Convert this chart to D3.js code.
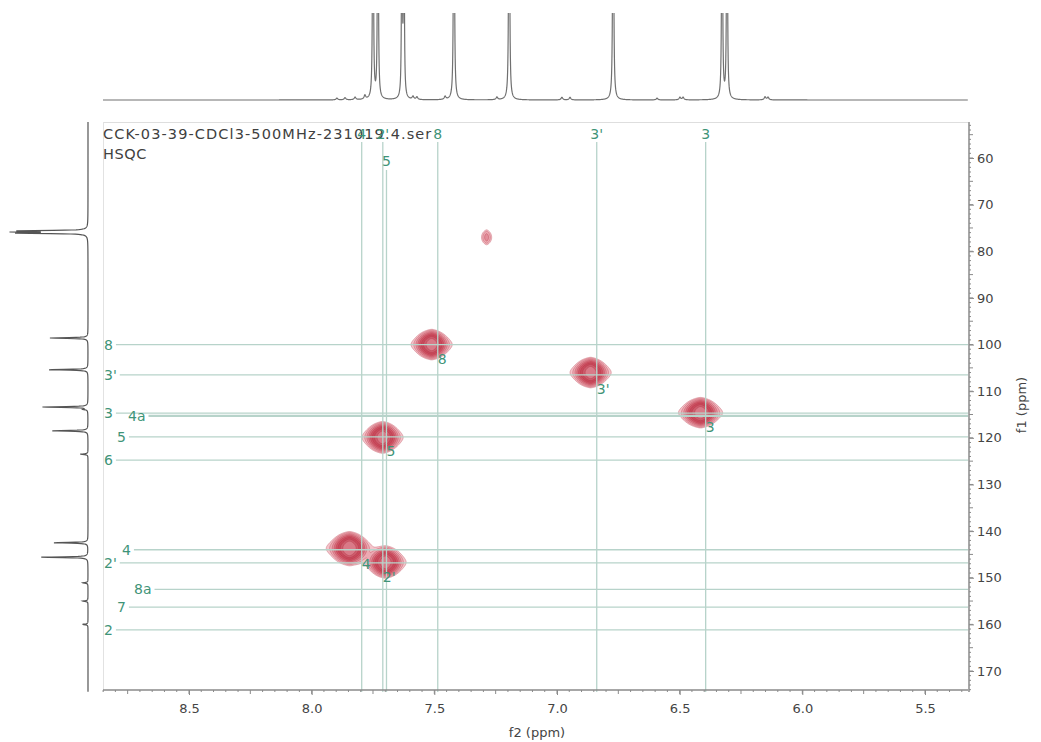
<!DOCTYPE html>
<html>
<head>
<meta charset="utf-8">
<script src="https://cdn.jsdelivr.net/npm/d3@7"></script>
<style>
  html, body { margin: 0; padding: 0; background: #fff; }
  svg { display: block; font-family: "DejaVu Sans", Verdana, sans-serif; }
</style>
</head>
<body>
<svg id="chart" width="1041" height="742"></svg>
<script>
// ---------------- data ----------------
const title = "CCK-03-39-CDCl3-500MHz-231019.4.ser";
const experiment = "HSQC";
const f2Ticks = [8.5, 8.0, 7.5, 7.0, 6.5, 6.0, 5.5];
const f1Ticks = [60, 70, 80, 90, 100, 110, 120, 130, 140, 150, 160, 170];

// 1H projection (top trace): shift (ppm), height, half-width (ppm)
const protonShift  = [7.750, 7.730, 7.632, 7.624, 7.420, 7.195, 6.771, 6.327, 6.307,
                      7.897, 7.864, 7.823, 7.783, 7.587, 7.571, 7.456, 7.245,
                      6.980, 6.947, 6.592, 6.499, 6.486, 6.152, 6.140];
const protonHeight = [5.0, 5.0, 3.5, 3.5, 6.0, 6.0, 6.0, 5.0, 5.0,
                      0.02, 0.025, 0.03, 0.045, 0.035, 0.03, 0.035, 0.03,
                      0.03, 0.03, 0.02, 0.03, 0.03, 0.035, 0.03];
const protonWidth  = [0.0015, 0.0015, 0.0015, 0.0015, 0.0015, 0.0015, 0.0015, 0.0015, 0.0015,
                      0.004, 0.004, 0.004, 0.004, 0.004, 0.004, 0.004, 0.004,
                      0.004, 0.004, 0.004, 0.004, 0.004, 0.004, 0.004];

// 13C projection (left trace): shift (ppm), height, half-width (ppm)
const carbonShift  = [75.62, 75.87, 76.12, 98.6, 105.4, 113.4, 113.9, 118.5, 123.5,
                      142.5, 145.6, 151.1, 155.0, 160.0];
const carbonHeight = [0.82, 0.82, 0.82, 0.49, 0.51, 0.59, 0.05, 0.46, 0.10,
                      0.44, 0.60, 0.07, 0.07, 0.07];
const carbonWidth  = 0.09;

// HSQC cross peaks: 1H shift, 13C shift, intensity, 1H / 13C line widths (ppm)
const peakH  = [7.513, 6.865, 6.417, 7.713, 7.848, 7.701, 7.289];
const peakC  = [99.9, 105.9, 114.5, 119.8, 143.6, 146.6, 76.9];
const peakI  = [1.0, 1.0, 1.0, 1.0, 1.15, 1.0, 0.05];
const peakWH = [0.0140, 0.0140, 0.0150, 0.0140, 0.0150, 0.0140, 0.0080];
const peakWC = [1.10, 1.10, 1.10, 1.15, 1.20, 1.15, 0.95];

// Assignments: 1H (vertical) and 13C (horizontal) lines
const hAssign = ["4", "2'", "5", "8", "3'", "3"];
const hAssignShift = [7.796, 7.710, 7.695, 7.486, 6.838, 6.394];
const cAssign = ["8", "3'", "3", "4a", "5", "6", "4", "2'", "8a", "7", "2"];
const cAssignShift = [100.0, 106.5, 114.7, 115.3, 119.8, 124.8, 144.0, 146.8, 152.5, 156.3, 161.2];
// cross-peak labels (assignment names shared by both dimensions)
const crossLabels = ["8", "3'", "3", "5", "4", "2'"];

// ---------------- layout ----------------
const svg = d3.select("#chart");
const plot = { left: 103, right: 968, top: 122, bottom: 692 };
const labelColor = "#3f9478";
const lineColor = "#b7d3ca";

const x = d3.scaleLinear().domain([8.8505, 5.3247]).range([plot.left, plot.right]);
const y = d3.scaleLinear().domain([52.28, 174.5]).range([plot.top, plot.bottom]);

const lorentz = (d, w) => 1 / (1 + (d / w) * (d / w));
const gauss = (d, s) => Math.exp(-d * d / (2 * s * s));
// pseudo-Voigt profile used along f2
const voigt = (d, w) => 0.6 * gauss(d, 1.7 * w) + 0.4 * lorentz(d, w);

// plot frame
svg.append("line").attr("x1", plot.left).attr("x2", plot.right)
  .attr("y1", plot.top + 0.5).attr("y2", plot.top + 0.5).attr("stroke", "#dedede");
svg.append("line").attr("x1", plot.left + 0.5).attr("x2", plot.left + 0.5)
  .attr("y1", plot.top).attr("y2", plot.bottom).attr("stroke", "#e2e2e2");

// ---------------- 1H projection ----------------
svg.append("clipPath").attr("id", "topClip").append("rect")
  .attr("x", 0).attr("y", 13).attr("width", 1041).attr("height", 100);
const topY = d3.scaleLinear().domain([0, 1]).range([100, 13]);
const hTrace = d3.range(plot.left, plot.right, 0.2).map(px => {
  const ppm = x.invert(px);
  let v = 0;
  for (let i = 0; i < protonShift.length; i++) v += protonHeight[i] * lorentz(ppm - protonShift[i], protonWidth[i]);
  return [ppm, v];
});
svg.append("path").attr("clip-path", "url(#topClip)")
  .attr("d", d3.line().x(d => x(d[0])).y(d => topY(Math.min(d[1], 3)))(hTrace))
  .attr("fill", "none").attr("stroke", "#707070").attr("stroke-width", 1.2);

// ---------------- 13C projection ----------------
const leftX = d3.scaleLinear().domain([0, 1]).range([88, 10]);
const cTrace = d3.range(plot.top, plot.bottom, 0.2).map(py => {
  const ppm = y.invert(py);
  let v = 0;
  for (let i = 0; i < carbonShift.length; i++) v += carbonHeight[i] * lorentz(ppm - carbonShift[i], carbonWidth);
  return [ppm, v];
});
svg.append("path")
  .attr("d", d3.line().x(d => leftX(d[1])).y(d => y(d[0]))(cTrace))
  .attr("fill", "none").attr("stroke", "#555").attr("stroke-width", 1.2);

// ---------------- HSQC contours ----------------
const gw = plot.right - plot.left, gh = plot.bottom - plot.top;
const grid = new Float64Array(gw * gh);
peakH.forEach((h, k) => {
  const cx = x(h) - plot.left, cy = y(peakC[k]) - plot.top;
  const i0 = Math.max(0, Math.floor(cx - 70)), i1 = Math.min(gw - 1, Math.ceil(cx + 70));
  const j0 = Math.max(0, Math.floor(cy - 45)), j1 = Math.min(gh - 1, Math.ceil(cy + 45));
  for (let j = j0; j <= j1; j++) {
    const g = gauss(y.invert(plot.top + j) - peakC[k], peakWC[k]);
    for (let i = i0; i <= i1; i++) {
      grid[j * gw + i] += peakI[k] * voigt(x.invert(plot.left + i) - h, peakWH[k]) * g;
    }
  }
});
const levels = [0.012, 0.02, 0.035, 0.06, 0.1, 0.17, 0.3, 0.5];
const levelFill = ["#f4c4cb", "#ecaab3", "#e28e9a", "#d8717f", "#cf5667", "#c84b5d", "#cd5d6d", "#d97a88"];
const contours = d3.contours().size([gw, gh]).thresholds(levels)(grid);
const cg = svg.append("g").attr("transform", `translate(${plot.left},${plot.top})`);
cg.selectAll("path").data(contours).join("path")
  .attr("d", d3.geoPath())
  .attr("fill", (d, i) => levelFill[i])
  .attr("stroke", "#b0283a").attr("stroke-opacity", 0.45).attr("stroke-width", 0.7);

// ---------------- assignment lines & labels ----------------
// top labels: second row when a label would collide with its neighbour
const topRows = [];
hAssign.forEach((name, i) => {
  const px = x(hAssignShift[i]);
  let row = 0;
  if (i > 0 && Math.abs(px - topRows[i - 1].px) < 12 && topRows[i - 1].row === 0) row = 1;
  topRows.push({ name, px, row });
});
topRows.forEach(d => {
  svg.append("line").attr("x1", d.px).attr("x2", d.px)
    .attr("y1", d.row ? 170 : 142).attr("y2", plot.bottom)
    .attr("stroke", lineColor).attr("stroke-width", 1.3);
});

// left labels, nudged sideways where neighbours crowd each other
const leftNudge = { "4a": 24, "5": 13, "4": 18, "8a": 30, "7": 13 };
cAssign.forEach((name, i) => {
  const py = y(cAssignShift[i]);
  const lx = 104 + (leftNudge[name] || 0);
  const t = svg.append("text").attr("x", lx).attr("y", py + 5)
    .attr("fill", labelColor).attr("font-size", 14).text(name);
  const w = t.node().getComputedTextLength();
  svg.append("line").attr("x1", lx + w + 3).attr("x2", plot.right)
    .attr("y1", py).attr("y2", py)
    .attr("stroke", lineColor).attr("stroke-width", name === "4a" ? 2.2 : 1.3);
});

// title
svg.append("text").attr("x", 103).attr("y", 139).attr("fill", "#404040")
  .attr("font-size", 14.5).attr("letter-spacing", 1.1).text(title);
svg.append("text").attr("x", 103).attr("y", 159).attr("fill", "#404040")
  .attr("font-size", 14.5).attr("letter-spacing", 0.6).text(experiment);

topRows.forEach(d => {
  svg.append("text").attr("x", d.px).attr("y", d.row ? 166 : 139)
    .attr("text-anchor", "middle").attr("fill", labelColor).attr("font-size", 14).text(d.name);
});

// cross peak labels
crossLabels.forEach(name => {
  const px = x(hAssignShift[hAssign.indexOf(name)]);
  const py = y(cAssignShift[cAssign.indexOf(name)]);
  svg.append("text").attr("x", px).attr("y", py + 19)
    .attr("fill", labelColor).attr("font-size", 14).text(name);
});

// ---------------- axes ----------------
const axisColor = "#8a8a8a", tickText = "#444";
// bottom (f2)
const bottomY = 690;
const xAxis = svg.append("g").attr("transform", `translate(0,${bottomY})`);
xAxis.append("line").attr("x1", plot.left).attr("x2", plot.right).attr("y1", 0).attr("y2", 0)
  .attr("stroke", axisColor).attr("stroke-width", 1.5);
const fineX = d3.range(5.35, 8.851, 0.05);
xAxis.selectAll("line.fine").data(fineX).join("line").attr("class", "fine")
  .attr("x1", d => x(d)).attr("x2", d => x(d)).attr("y1", 0)
  .attr("y2", d => Math.abs(d * 4 - Math.round(d * 4)) < 1e-6 ? 4 : 2)
  .attr("stroke", axisColor);
xAxis.call(g => {
  const ax = d3.axisBottom(x).tickValues(f2Ticks).tickFormat(d3.format(".1f")).tickSize(5).tickPadding(9);
  const gg = g.append("g").call(ax);
  gg.select(".domain").remove();
  gg.selectAll(".tick line").attr("stroke", axisColor);
  gg.selectAll(".tick text").attr("fill", tickText).attr("font-size", 13)
    .attr("font-family", "DejaVu Sans, Verdana, sans-serif");
});
svg.append("text").attr("x", 537).attr("y", 737).attr("text-anchor", "middle")
  .attr("fill", tickText).attr("font-size", 13).text("f2 (ppm)");

// right (f1)
const rightX = 969;
const yAxis = svg.append("g").attr("transform", `translate(${rightX},0)`);
yAxis.append("line").attr("x1", 0).attr("x2", 0).attr("y1", plot.top).attr("y2", plot.bottom)
  .attr("stroke", axisColor).attr("stroke-width", 1.5);
const fineY = d3.range(53, 175, 1);
yAxis.selectAll("line.fine").data(fineY).join("line").attr("class", "fine")
  .attr("y1", d => y(d)).attr("y2", d => y(d)).attr("x1", 0)
  .attr("x2", d => d % 5 === 0 ? 4 : 2).attr("stroke", axisColor);
yAxis.call(g => {
  const ax = d3.axisRight(y).tickValues(f1Ticks).tickSize(5).tickPadding(3);
  const gg = g.append("g").call(ax);
  gg.select(".domain").remove();
  gg.selectAll(".tick line").attr("stroke", axisColor);
  gg.selectAll(".tick text").attr("fill", tickText).attr("font-size", 13)
    .attr("font-family", "DejaVu Sans, Verdana, sans-serif");
});
svg.append("text").attr("transform", "translate(1026,405) rotate(-90)")
  .attr("text-anchor", "middle").attr("fill", tickText).attr("font-size", 13).text("f1 (ppm)");
</script>
</body>
</html>
